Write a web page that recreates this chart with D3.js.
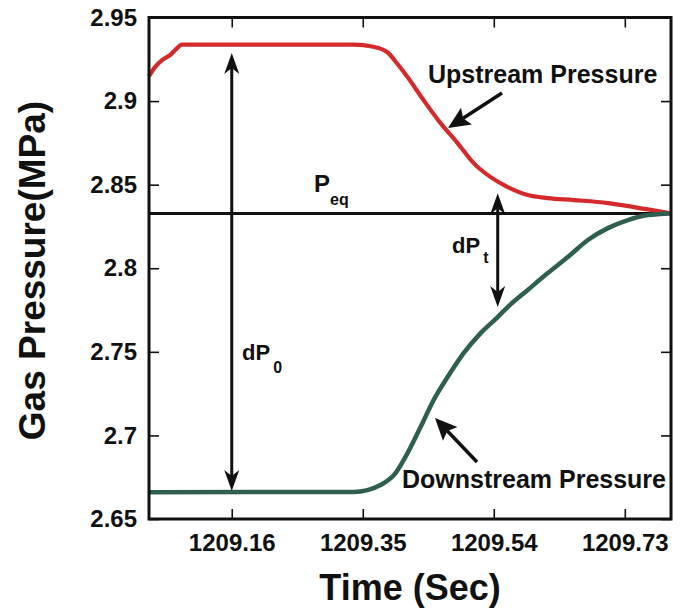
<!DOCTYPE html>
<html>
<head>
<meta charset="utf-8">
<script src="https://cdn.jsdelivr.net/npm/d3@7"></script>
<style>
  html, body { margin: 0; padding: 0; background: #fff; }
  svg { display: block; }
  text { font-family: "Liberation Sans", Arial, Helvetica, sans-serif; font-weight: bold; fill: #111; }
</style>
</head>
<body>
<svg id="chart" width="686" height="610"></svg>
<script>
// ---- data ----
const upstreamTime = [1209.040, 1209.0487, 1209.0589, 1209.0705, 1209.0778, 1209.088, 1209.3364, 1209.3655, 1209.3858, 1209.4004, 1209.4149, 1209.4381, 1209.4628, 1209.4875, 1209.5108, 1209.5355, 1209.5602, 1209.5893, 1209.6183, 1209.6561, 1209.7055, 1209.7433, 1209.7968];
const upstreamPressure = [2.9149, 2.9203, 2.9245, 2.9275, 2.9305, 2.9338, 2.9338, 2.9325, 2.9292, 2.9222, 2.9144, 2.9006, 2.8868, 2.8749, 2.8629, 2.8545, 2.8486, 2.8438, 2.8420, 2.8408, 2.8390, 2.8366, 2.8328];
const downstreamTime = [1209.040, 1209.3364, 1209.3568, 1209.3757, 1209.3975, 1209.4149, 1209.4338, 1209.4527, 1209.473, 1209.4963, 1209.521, 1209.5457, 1209.5602, 1209.5893, 1209.6183, 1209.6474, 1209.6765, 1209.7055, 1209.7346, 1209.7636, 1209.7968];
const downstreamPressure = [2.6660, 2.6662, 2.6673, 2.6703, 2.6775, 2.6894, 2.7050, 2.7211, 2.7349, 2.7492, 2.7612, 2.7708, 2.7768, 2.7870, 2.7971, 2.8067, 2.8169, 2.8240, 2.8288, 2.8318, 2.8328];
const equilibriumPressure = 2.8328;
const xTickValues = [1209.16, 1209.35, 1209.54, 1209.73];
const yTickValues = [2.65, 2.7, 2.75, 2.8, 2.85, 2.9, 2.95];
const xDomain = [1209.04, 1209.797];
const yDomain = [2.65, 2.95];
// annotation anchors (data coordinates)
const dP0Arrow = { t: 1209.16, from: 2.9287, to: 2.6668 };
const dPtArrow = { t: 1209.5457, from: 2.8449, to: 2.7768 };

// ---- layout ----
const svg = d3.select("#chart");
const L = 149, R = 671, T = 17.5, B = 519;
const x = d3.scaleLinear().domain(xDomain).range([L, R]);
const y = d3.scaleLinear().domain(yDomain).range([B, T]);

const upData = upstreamTime.map((t, i) => ({ t, p: upstreamPressure[i] }));
const downData = downstreamTime.map((t, i) => ({ t, p: downstreamPressure[i] }));

const line = d3.line().x(d => x(d.t)).y(d => y(d.p)).curve(d3.curveMonotoneX);

// axes with inward ticks
const fmtY = d => String(+d.toFixed(2));
const gB = svg.append("g").attr("transform", `translate(0,${B})`)
  .call(d3.axisBottom(x).tickValues(xTickValues).tickFormat(d3.format(".2f")).tickSizeInner(-10).tickSizeOuter(0).tickPadding(15));
const gL = svg.append("g").attr("transform", `translate(${L},0)`)
  .call(d3.axisLeft(y).tickValues(yTickValues).tickFormat(fmtY).tickSizeInner(-10).tickSizeOuter(0).tickPadding(12));
const gT = svg.append("g").attr("transform", `translate(0,${T})`)
  .call(d3.axisTop(x).tickValues(xTickValues).tickFormat("").tickSizeInner(-10).tickSizeOuter(0));
const gR = svg.append("g").attr("transform", `translate(${R},0)`)
  .call(d3.axisRight(y).tickValues(yTickValues).tickFormat("").tickSizeInner(-10).tickSizeOuter(0));
[gB, gL, gT, gR].forEach(g => {
  g.select(".domain").remove();
  g.selectAll(".tick line").attr("stroke", "#111").attr("stroke-width", 1.6);
  g.selectAll(".tick text").attr("fill", "#111").style("font-size", "24px").style("font-family", "'Liberation Sans', Arial, sans-serif").style("font-weight", "bold");
});

// equilibrium line
svg.append("line")
  .attr("x1", x(xDomain[0])).attr("x2", x(xDomain[1]))
  .attr("y1", y(equilibriumPressure)).attr("y2", y(equilibriumPressure))
  .attr("stroke", "#111").attr("stroke-width", 3);

// curves
svg.append("path").datum(upData).attr("d", line)
  .attr("fill", "none").attr("stroke", "#d42a2c").attr("stroke-width", 4.2).attr("stroke-linejoin", "round");
svg.append("path").datum(downData).attr("d", line)
  .attr("fill", "none").attr("stroke", "#2f5f4e").attr("stroke-width", 4.5).attr("stroke-linejoin", "round");

// arrow helpers
function arrowHead(g, tipX, tipY, ang, len, half, notch) {
  const ca = Math.cos(ang), sa = Math.sin(ang);
  const pt = (a, b) => [tipX - a * ca - b * (-sa), tipY - a * sa - b * ca];
  const p1 = pt(len, half), p2 = pt(len - notch, 0), p3 = pt(len, -half);
  g.append("path").attr("d", `M${tipX},${tipY}L${p1[0]},${p1[1]}L${p2[0]},${p2[1]}L${p3[0]},${p3[1]}Z`).attr("fill", "#111");
}
function arrow(x1, y1, x2, y2, opts) {
  const g = svg.append("g");
  const ang = Math.atan2(y2 - y1, x2 - x1);
  const back = opts.len - opts.notch;
  const sx = opts.double ? x1 + back * Math.cos(ang) : x1;
  const sy = opts.double ? y1 + back * Math.sin(ang) : y1;
  g.append("line").attr("x1", sx).attr("y1", sy)
    .attr("x2", x2 - back * Math.cos(ang)).attr("y2", y2 - back * Math.sin(ang))
    .attr("stroke", "#111").attr("stroke-width", opts.w);
  arrowHead(g, x2, y2, ang, opts.len, opts.half, opts.notch);
  if (opts.double) arrowHead(g, x1, y1, ang + Math.PI, opts.len, opts.half, opts.notch);
}

// dP0 double arrow
arrow(x(dP0Arrow.t), y(dP0Arrow.from), x(dP0Arrow.t), y(dP0Arrow.to), { len: 21, half: 7.5, notch: 6, w: 3, double: true });
// dPt double arrow
arrow(x(dPtArrow.t), y(dPtArrow.from), x(dPtArrow.t), y(dPtArrow.to), { len: 21, half: 7.5, notch: 6, w: 3, double: true });
// pointer arrows to curves
arrow(502, 93, 448, 128, { len: 22, half: 10, notch: 4, w: 3.5, double: false });
arrow(477, 462, 435, 418, { len: 22, half: 10, notch: 4, w: 3.5, double: false });

// labels
svg.append("text").attr("x", 428).attr("y", 83).style("font-size", "25px").text("Upstream Pressure");
svg.append("text").attr("x", 402).attr("y", 488).style("font-size", "25px").text("Downstream Pressure");

const peq = svg.append("text").attr("x", 314).attr("y", 192).style("font-size", "24px");
peq.append("tspan").text("P");
peq.append("tspan").attr("dy", 13).style("font-size", "16px").text("eq");

const dp0 = svg.append("text").attr("x", 242).attr("y", 360).style("font-size", "22px");
dp0.append("tspan").text("dP");
dp0.append("tspan").attr("dy", 13).attr("dx", 3).style("font-size", "16px").text("0");

const dpt = svg.append("text").attr("x", 452).attr("y", 253).style("font-size", "22px");
dpt.append("tspan").text("dP");
dpt.append("tspan").attr("dy", 10).attr("dx", 3).style("font-size", "16px").text("t");

// axis titles
svg.append("text").attr("x", (L + R) / 2).attr("y", 600).attr("text-anchor", "middle")
  .style("font-size", "36px").text("Time (Sec)");
svg.append("text").attr("transform", `translate(45,270.5) rotate(-90)`).attr("text-anchor", "middle")
  .style("font-size", "37px").text("Gas Pressure(MPa)");

// frame
svg.append("rect").attr("x", L).attr("y", T).attr("width", R - L).attr("height", B - T)
  .attr("fill", "none").attr("stroke", "#111").attr("stroke-width", 3);
</script>
</body>
</html>
